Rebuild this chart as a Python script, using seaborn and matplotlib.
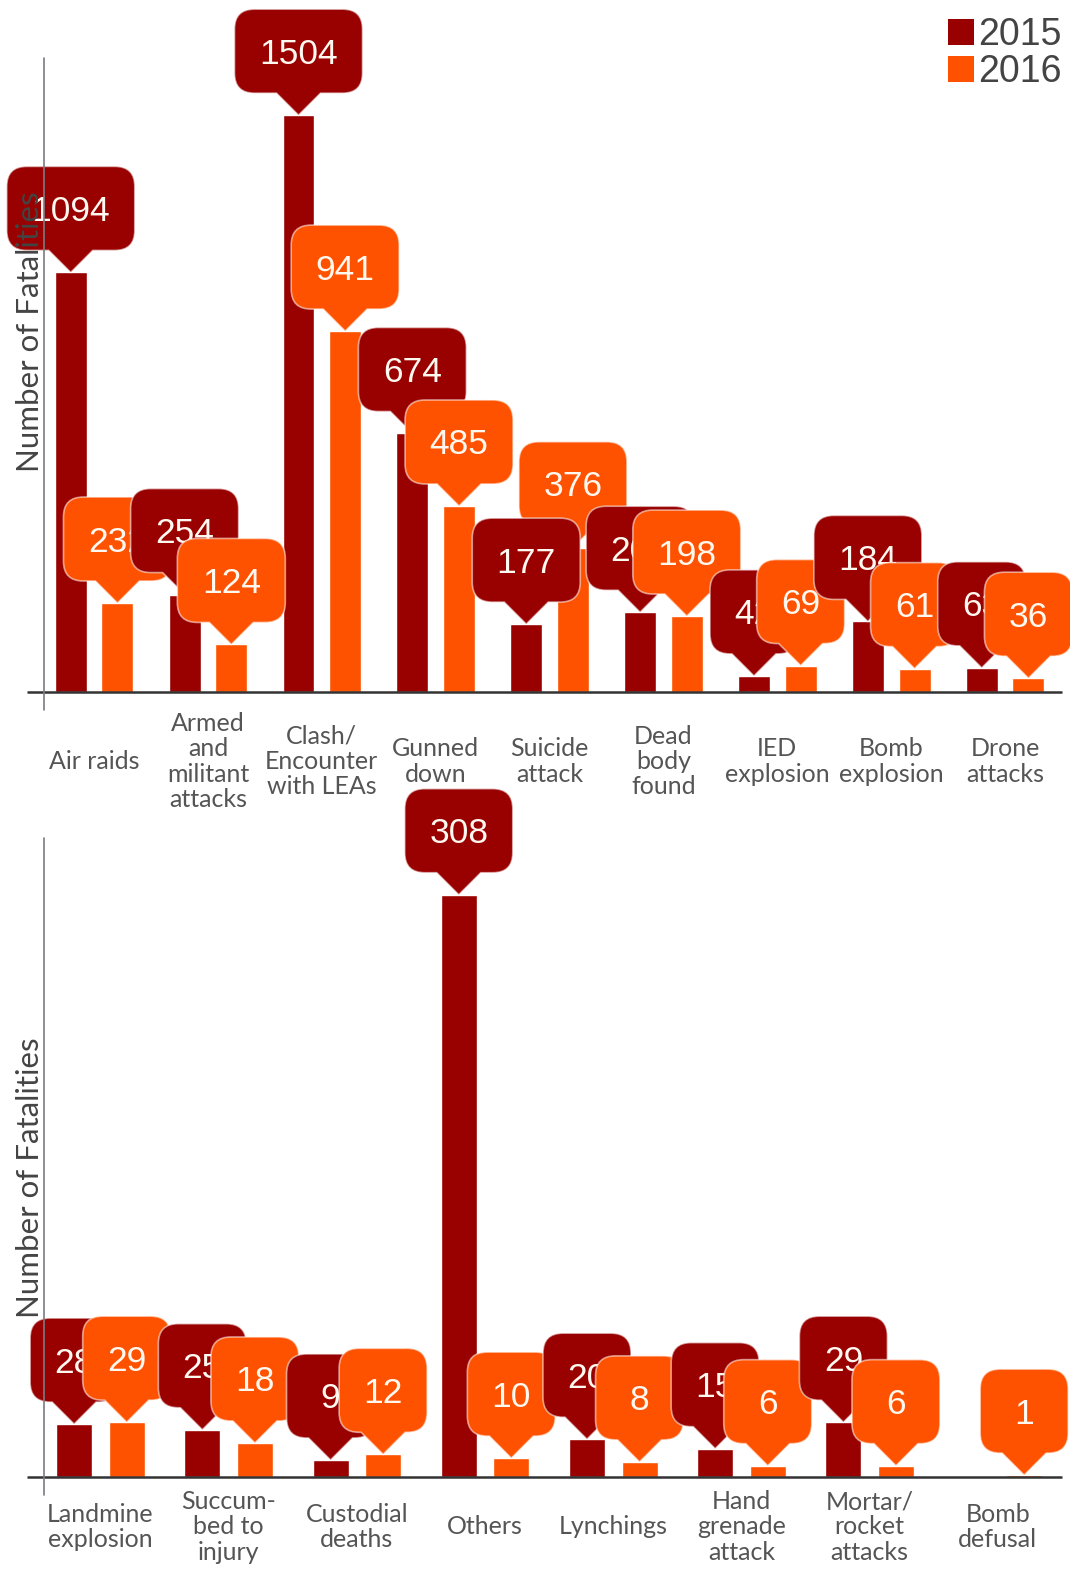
import numpy as np
import pandas as pd
import matplotlib
matplotlib.use("Agg")
import matplotlib.pyplot as plt
import matplotlib.transforms as mtransforms
from matplotlib.path import Path
from matplotlib.patches import PathPatch, Patch
from matplotlib import font_manager
import seaborn as sns

# ---- data -------------------------------------------------------------
years = ["2015", "2016"]

top_categories = ["Air raids", "Armed\nand\nmilitant\nattacks", "Clash/\nEncounter\nwith LEAs",
                  "Gunned\ndown", "Suicide\nattack", "Dead\nbody\nfound", "IED\nexplosion",
                  "Bomb\nexplosion", "Drone\nattacks"]
top_2015 = [1094, 254, 1504, 674, 177, 208, 42, 184, 63]
top_2016 = [232, 124, 941, 485, 376, 198, 69, 61, 36]

bottom_categories = ["Landmine\nexplosion", "Succum-\nbed to\ninjury", "Custodial\ndeaths", "Others",
                     "Lynchings", "Hand\ngrenade\nattack", "Mortar/\nrocket\nattacks", "Bomb\ndefusal"]
bottom_2015 = [28, 25, 9, 308, 20, 15, 29, None]
bottom_2016 = [29, 18, 12, 10, 8, 6, 6, 1]

palette = {"2015": "#990000", "2016": "#FF5200"}

# ---- fonts ------------------------------------------------------------
sns.set_style("white")
installed = {f.name for f in font_manager.fontManager.ttflist}
LABEL_FONT = ["Lato", "DejaVu Sans"]
NUM_FONT = ["Liberation Sans", "DejaVu Sans"]
LEGEND_FONT = (["Liberation Sans Narrow"] if "Liberation Sans Narrow" in installed else []) + ["Liberation Sans"]
plt.rcParams["font.family"] = LABEL_FONT


def long_frame(cats, v15, v16):
    rows = []
    for c, a, b in zip(cats, v15, v16):
        if a is not None:
            rows.append((c, "2015", a))
        if b is not None:
            rows.append((c, "2016", b))
    return pd.DataFrame(rows, columns=["category", "year", "fatalities"])


def bubble_path(w, h=84, gap=22, r=20, tb=44):
    """Rounded callout whose pointer tip sits at (0, 0); units are pixels."""
    x0, x1, y0, y1 = -w / 2, w / 2, gap, gap + h
    verts = [(x0 + r, y0), (-tb / 2, y0), (0, 0), (tb / 2, y0), (x1 - r, y0),
             (x1, y0), (x1, y0 + r), (x1, y1 - r), (x1, y1), (x1 - r, y1),
             (x0 + r, y1), (x0, y1), (x0, y1 - r), (x0, y0 + r), (x0, y0), (x0 + r, y0),
             (x0 + r, y0)]
    codes = [Path.MOVETO, Path.LINETO, Path.LINETO, Path.LINETO, Path.LINETO,
             Path.CURVE3, Path.CURVE3, Path.LINETO, Path.CURVE3, Path.CURVE3,
             Path.LINETO, Path.CURVE3, Path.CURVE3, Path.LINETO, Path.CURVE3, Path.CURVE3,
             Path.CLOSEPOLY]
    return Path(verts, codes)


BODY_H, GAP = 84, 22


def panel(ax, cats, v15, v16, ymax, label_pad, ylabel_y, raised=()):
    df = long_frame(cats, v15, v16)
    sns.barplot(data=df, x="category", y="fatalities", hue="year", order=cats,
                hue_order=years, palette=palette, saturation=1, width=0.82, gap=0.315,
                errorbar=None, legend=False, ax=ax)
    n = len(cats)
    ax.set_xlim(-0.44, n - 0.5)
    ax.set_ylim(0, ymax)
    ax.set_xlabel("")
    ax.set_ylabel("")
    ax.set_yticks([])
    ax.set_xticks(range(n))
    ax.set_xticklabels(cats, va="center", linespacing=1.12, fontsize=18, color="#555555")
    ax.tick_params(axis="x", length=0, pad=label_pad)
    for s in ax.spines.values():
        s.set_visible(False)

    # axis lines
    ax.plot([-0.017, 1], [0, 0], transform=ax.transAxes, color="#333333", lw=1.8,
            clip_on=False, zorder=100, solid_capstyle="butt")
    ax.plot([0, 0], [-0.028, 1], transform=ax.transAxes, color="#7a7a85", lw=1.2,
            clip_on=False, zorder=100)
    ax.text(-0.0135, ylabel_y, "Number of Fatalities", transform=ax.transAxes, rotation=90,
            ha="center", va="center", fontsize=22.5, color="#444444", zorder=100)

    # value callouts anchored on the bar tops
    fig = ax.figure
    marks = []
    for bar in ax.patches:
        h = bar.get_height()
        if not np.isfinite(h) or bar.get_width() == 0:
            continue
        x = bar.get_x() + bar.get_width() / 2
        idx = int(round(x))
        year = "2015" if x < idx else "2016"
        marks.append((x, h, idx, year))
    marks.sort(key=lambda m: m[0])
    for rank, (x, h, idx, year) in enumerate(marks):
        z = 10 + 2 * rank + (3 if (idx, year) in raised else 0)
        label = f"{int(round(h))}"
        w = 48 + 20 * max(len(label), 2)
        trans = (mtransforms.Affine2D().scale(0.01) + fig.dpi_scale_trans
                 + mtransforms.ScaledTranslation(x, h, ax.transData))
        patch = PathPatch(bubble_path(w, BODY_H, GAP), transform=trans,
                          facecolor=palette[year], edgecolor=(1, 1, 1, 0.55), lw=1.2,
                          zorder=z, clip_on=False)
        ax.add_artist(patch)
        ax.text(0, GAP + BODY_H / 2 - 12.5, label, transform=trans, ha="center",
                va="baseline", fontsize=25.5, color="#FFF8F0", family=NUM_FONT,
                zorder=z + 0.5, clip_on=False)


fig = plt.figure(figsize=(10.70, 15.71), dpi=100)
ax_top = fig.add_axes([44 / 1070, 1 - 692 / 1571, 1018 / 1070, 634 / 1571])
ax_bot = fig.add_axes([44 / 1070, 1 - 1477 / 1571, 1018 / 1070, 639 / 1571])

panel(ax_top, top_categories, top_2015, top_2016, ymax=1653, label_pad=50,
      ylabel_y=0.568, raised={(4, "2015")})
panel(ax_bot, bottom_categories, bottom_2015, bottom_2016, ymax=338, label_pad=36,
      ylabel_y=0.469)

handles = [Patch(facecolor=palette[y], edgecolor="none") for y in years]
fig.legend(handles, years, loc="upper right", bbox_to_anchor=(1062 / 1070, 1 - 17 / 1571),
           frameon=False, handlelength=0.7, handleheight=0.7, handletextpad=0.12,
           labelspacing=0.02, borderpad=0, borderaxespad=0,
           prop={"family": LEGEND_FONT, "size": 27}, labelcolor="#444444")

fig.savefig("out.png", dpi=100)
